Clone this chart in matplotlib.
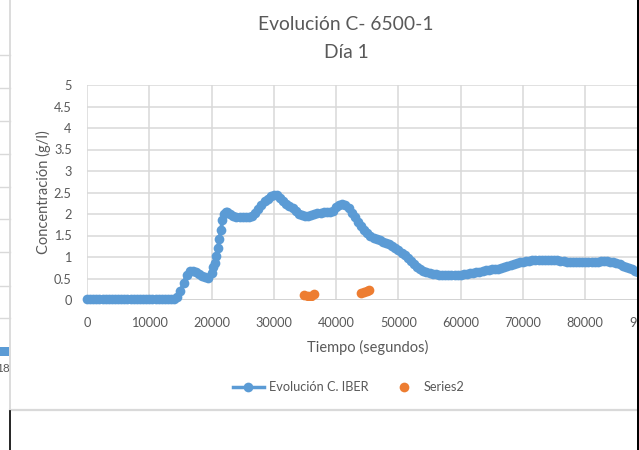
import matplotlib
matplotlib.use("Agg")
import matplotlib.pyplot as plt
from matplotlib.lines import Line2D
from matplotlib.patches import Rectangle

# ---------------- data ----------------
time_s = [
    0, 500, 1000, 1500, 2000, 2500, 3000, 3500, 4000, 4500,
    5000, 5500, 6000, 6500, 7000, 7500, 8000, 8500, 9000, 9500,
    10000, 10500, 11000, 11500, 12000, 12500, 13000, 13500, 14000, 14500,
    15000, 15500, 16000, 16500, 17000, 17500, 18000, 18500, 19000, 19500,
    20000, 20250, 20500, 20750, 21000, 21250, 21500, 21750, 22000, 22250,
    22500, 23000, 23500, 24000, 24500, 25000, 25500, 26000, 26500, 27000,
    27500, 28000, 28500, 29000, 29500, 30000, 30500, 31000, 31500, 32000,
    32500, 33000, 33500, 34000, 34500, 35000, 35500, 36000, 36500, 37000,
    37500, 38000, 38500, 39000, 39500, 40000, 40500, 41000, 41500, 42000,
    42500, 43000, 43500, 44000, 44500, 45000, 45500, 46000, 46500, 47000,
    47500, 48000, 48500, 49000, 49500, 50000, 50500, 51000, 51500, 52000,
    52500, 53000, 53500, 54000, 54500, 55000, 55500, 56000, 56500, 57000,
    57500, 58000, 58500, 59000, 59500, 60000, 60500, 61000, 61500, 62000,
    62500, 63000, 63500, 64000, 64500, 65000, 65500, 66000, 66500, 67000,
    67500, 68000, 68500, 69000, 69500, 70000, 70500, 71000, 71500, 72000,
    72500, 73000, 73500, 74000, 74500, 75000, 75500, 76000, 76500, 77000,
    77500, 78000, 78500, 79000, 79500, 80000, 80500, 81000, 81500, 82000,
    82500, 83000, 83500, 84000, 84500, 85000, 85500, 86000, 86500, 87000,
    87500, 88000, 88500, 89000, 89500, 90000,
]
conc_iber = [
    0.02, 0.02, 0.02, 0.02, 0.02, 0.02, 0.02, 0.02, 0.02, 0.02,
    0.02, 0.02, 0.02, 0.02, 0.02, 0.02, 0.02, 0.02, 0.02, 0.02,
    0.02, 0.02, 0.02, 0.02, 0.02, 0.02, 0.02, 0.02, 0.02, 0.06,
    0.20, 0.40, 0.58, 0.67, 0.68, 0.64, 0.60, 0.56, 0.53, 0.52,
    0.62, 0.76, 0.86, 1.02, 1.20, 1.42, 1.62, 1.86, 2.00, 2.04,
    2.05, 2.00, 1.96, 1.94, 1.94, 1.94, 1.94, 1.94, 1.96, 2.02,
    2.12, 2.22, 2.30, 2.36, 2.42, 2.45, 2.45, 2.38, 2.30, 2.24,
    2.18, 2.13, 2.07, 2.01, 1.97, 1.95, 1.96, 1.98, 2.00, 2.02,
    2.03, 2.05, 2.04, 2.04, 2.08, 2.16, 2.22, 2.24, 2.21, 2.13,
    2.02, 1.92, 1.82, 1.72, 1.63, 1.56, 1.50, 1.45, 1.41, 1.39,
    1.36, 1.33, 1.30, 1.26, 1.21, 1.16, 1.10, 1.04, 0.97, 0.90,
    0.83, 0.77, 0.72, 0.68, 0.65, 0.63, 0.61, 0.60, 0.59, 0.58,
    0.58, 0.58, 0.58, 0.58, 0.58, 0.59, 0.60, 0.61, 0.62, 0.63,
    0.64, 0.66, 0.67, 0.69, 0.70, 0.71, 0.72, 0.73, 0.75, 0.77,
    0.80, 0.82, 0.84, 0.86, 0.88, 0.89, 0.90, 0.91, 0.92, 0.93,
    0.93, 0.94, 0.94, 0.94, 0.94, 0.93, 0.92, 0.91, 0.90, 0.89,
    0.88, 0.88, 0.88, 0.88, 0.88, 0.88, 0.88, 0.88, 0.89, 0.89,
    0.90, 0.90, 0.90, 0.89, 0.88, 0.86, 0.83, 0.80, 0.77, 0.74,
    0.71, 0.68, 0.66, 0.64, 0.62, 0.60,
]
series2_time = [34900, 35500, 36000, 36400, 44000, 44500, 45000, 45300]
series2_conc = [0.12, 0.10, 0.10, 0.14, 0.16, 0.18, 0.20, 0.23]

x_ticks = [0, 10000, 20000, 30000, 40000, 50000, 60000, 70000, 80000, 90000]
y_ticks = [0, 0.5, 1, 1.5, 2, 2.5, 3, 3.5, 4, 4.5, 5]
y_tick_labels = ["0", "0.5", "1", "1.5", "2", "2.5", "3", "3.5", "4", "4.5", "5"]

title_line1 = "Evolución C- 6500-1"
title_line2 = "Día 1"
x_label = "Tiempo (segundos)"
y_label = "Concentración (g/l)"
legend_labels = ["Evolución C. IBER", "Series2"]

# ---------------- style ----------------
W, H = 639, 450
plt.rcParams['font.family'] = ['Lato', 'DejaVu Sans']
TXT = '#595959'
GRID = '#D9D9D9'
BLUE = '#5B9BD5'
ORANGE = '#ED7D31'
MS = 7.0

fig = plt.figure(figsize=(W / 100, H / 100), dpi=100)
fig.patch.set_facecolor('white')

def fx(px):
    return px / W

def fy(py):
    return 1 - py / H

x0_px, x90_px = 87, 647.6
y0_px, y5_px = 300, 85
ax = fig.add_axes([fx(x0_px), fy(y0_px), (x90_px - x0_px) / W, (y0_px - y5_px) / H])
ax.set_xlim(0, 90000)
ax.set_ylim(0, 5)
ax.set_xticks(x_ticks)
ax.set_yticks(y_ticks)
ax.set_yticklabels(y_tick_labels)
ax.tick_params(length=0, labelsize=9.2, colors=TXT)
ax.tick_params(axis='y', pad=11)
ax.tick_params(axis='x', pad=12)
for s in ax.spines.values():
    s.set_visible(False)
ax.grid(True, color=GRID, lw=1.1)
ax.set_axisbelow(True)
ax.axhline(0, color='#D0D0D0', lw=1.1, zorder=1)

ax.plot(time_s, conc_iber, '-o', color=BLUE, ms=MS, lw=2.8,
        markeredgewidth=0, label=legend_labels[0], clip_on=False, zorder=3)
ax.plot(series2_time, series2_conc, 'o', color=ORANGE, ms=MS,
        markeredgewidth=0, label=legend_labels[1], zorder=4)

ax.set_xlabel(x_label, fontsize=10.5, color=TXT)
ax.xaxis.set_label_coords(0.5, -0.185)
fig.text(fx(43), fy(192), y_label, rotation=90, ha='center', va='center',
         fontsize=10.5, color=TXT)

fig.text(fx(346), fy(25), title_line1, ha='center', va='center', fontsize=13.9, color=TXT)
fig.text(fx(346), fy(52), title_line2, ha='center', va='center', fontsize=13.9, color=TXT)

handles = [Line2D([], [], color=BLUE, marker='o', ms=MS, lw=2.5, markeredgewidth=0),
           Line2D([], [], color=ORANGE, marker='o', ms=MS, lw=0, markeredgewidth=0)]
fig.legend(handles, legend_labels, loc='center', bbox_to_anchor=(fx(349), fy(387)),
           ncol=2, frameon=False, fontsize=9.2, labelcolor=TXT,
           handlelength=2.4, handletextpad=0.4, columnspacing=1.55)

# ---------------- screenshot surroundings ----------------
fig.add_artist(Line2D([fx(10), fx(10)], [fy(0), fy(409)], color='#D9D9D9', lw=1.3, zorder=10))
for yy in [55, 88, 121, 154, 187, 219, 252, 286, 318]:
    fig.add_artist(Line2D([fx(0), fx(9.5)], [fy(yy), fy(yy)], color='#D9D9D9', lw=1.0, zorder=10))
fig.add_artist(Rectangle((fx(0), fy(356)), fx(9), 9 / H, color=BLUE, lw=0, zorder=10))
fig.text(fx(10), fy(368.5), "18", ha='right', va='center', fontsize=8.5, color=TXT)
fig.add_artist(Line2D([fx(10), fx(637)], [fy(409.5), fy(409.5)], color='#D9D9D9', lw=1.6, zorder=10))
fig.add_artist(Line2D([fx(9.6), fx(9.6)], [fy(410.5), fy(450)], color='black', lw=1.2, zorder=10))
fig.add_artist(Rectangle((fx(636.5), 0), 2.5 / W, 1, color='black', lw=0, zorder=20))

fig.savefig('out.png', dpi=100, facecolor='white')
